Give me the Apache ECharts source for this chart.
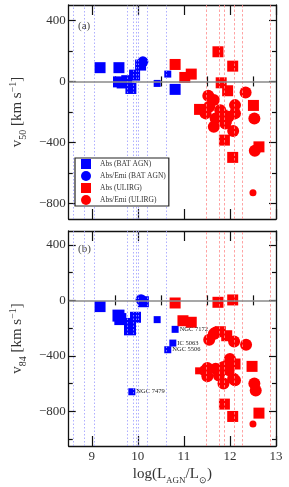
<!DOCTYPE html>
<html><head><meta charset="utf-8">
<script src="https://cdn.jsdelivr.net/npm/echarts@6/dist/echarts.min.js"></script>
<style>html,body{margin:0;padding:0;background:#fff}#c{width:289px;height:487px}</style>
</head><body><div id="c"></div>
<script>
// ---------- data ----------
const xMajorTicks = [9, 10, 11, 12, 13];
const xMinorTicks = [9.5, 10.5, 11.5, 12.5];
const yMajorTicks = [-800, -400, 0, 400];
const yMinorTicks = [-1000, -600, -200, 200];

const blueLinesX = [8.59, 8.83, 9.05, 9.78, 9.90, 9.97, 10.00, 10.21, 10.61];
const redLinesX = [11.48, 11.77, 11.88, 12.09, 12.27, 12.87];

// panel (a): v50
const aBatAbsX = [9.18, 9.59, 9.58, 9.66, 9.76, 9.85, 9.93, 10.06, 10.42, 10.65, 10.81];
const aBatAbsV = [90, 90, -3, -10, 5, -46, 41, 107, -13, 48, -52];
const aBatAbsSz = [11, 11, 11, 11, 11, 11, 11, 11, 7, 7, 11];
const aBatEmiX = [10.11];
const aBatEmiV = [128];
const aBatEmiSz = [11];
const aUlAbsX = [10.81, 11.02, 11.16, 11.74, 12.06, 11.81, 11.95, 11.34, 12.51, 11.88, 12.06, 12.63, 11.83, 11.92];
const aUlAbsV = [111, 26, 48, 194, 100, -9, -61, -183, -157, -384, -497, -428, -221, -240];
const aUlAbsSz = [11, 11, 11, 11, 11, 11, 11, 11, 11, 11, 11, 11, 11, 11];
const aUlEmiX = [11.53, 11.65, 12.34, 12.11, 12.53, 11.47, 11.65, 12.07, 11.79, 11.97, 12.11, 11.69, 12.54, 12.50, 11.90, 11.55];
const aUlEmiV = [-94, -122, -72, -155, -242, -209, -297, -325, -188, -231, -209, -242, -454, -729, -275, -166];
const aUlEmiSz = [12, 12, 12, 12, 12, 12, 12, 12, 12, 12, 12, 12, 12, 7, 12, 12];

// panel (b): v84
const bBatAbsX = [9.18, 9.58, 9.62, 9.83, 9.83, 9.95, 10.12, 10.42, 10.81, 10.76, 10.65, 9.87];
const bBatAbsV = [-45, -110, -135, -170, -209, -122, -10, -139, -209, -308, -356, -659];
const bBatAbsSz = [11, 12, 12, 12, 12, 11, 11, 7, 7, 7, 7, 7];
const bBatAbsName = ['', '', '', '', '', '', '', '', 'NGC 7172', 'IC 5063', 'NGC 5506', 'NGC 7479'];
const bBatEmiX = [10.07];
const bBatEmiV = [5];
const bBatEmiSz = [11];
const bUlAbsX = [10.81, 10.98, 11.16, 11.74, 12.06, 11.32, 12.48, 11.88, 12.06, 12.63, 12.11, 11.79, 11.93];
const bUlAbsV = [-19, -147, -158, -14, 3, -508, -476, -748, -837, -813, -459, -226, -255];
const bUlAbsSz = [11, 11, 11, 11, 11, 7, 11, 11, 11, 11, 11, 11, 11];
const bUlEmiX = [11.55, 11.65, 12.09, 12.35, 11.69, 12.00, 11.51, 11.51, 11.69, 11.86, 11.86, 12.07, 12.04, 11.97, 11.76, 12.53, 12.56, 12.50, 11.46, 11.99, 12.11];
const bUlEmiV = [-284, -243, -296, -320, -231, -423, -487, -547, -493, -481, -600, -564, -455, -503, -541, -600, -650, -892, -508, -435, -576];
const bUlEmiSz = [12, 12, 12, 12, 12, 12, 12, 12, 12, 12, 12, 12, 12, 12, 12, 12, 12, 7, 12, 12, 12];

const legendNames = ['Abs (BAT AGN)', 'Abs/Emi (BAT AGN)', 'Abs (ULIRG)', 'Abs/Emi (ULIRG)'];

// ---------- build ----------
const FONT = 'Liberation Serif';
const minus = v => String(v).replace('-', '\u2212');

function pts(xs, ys, sz, names) {
  return xs.map((x, i) => ({ value: [x, ys[i]], symbolSize: sz[i], name: names ? names[i] : '' }));
}

const panels = [
  { top: 5, height: 214, min: -900, max: 500 },
  { top: 231, height: 215, min: -1050, max: 500 }
];

const grid = panels.map(p => ({ left: 62, top: p.top, width: 214, height: p.height, containLabel: false }));

const xAxis = [], yAxis = [];
panels.forEach((p, gi) => {
  ['bottom', 'top'].forEach(pos => {
    xAxis.push({
      type: 'value', gridIndex: gi, position: pos, min: 8.5, max: 13,
      axisLine: { show: true, onZero: false, lineStyle: { color: '#111', width: 1.3 } },
      axisTick: { show: true, inside: true, length: 10, customValues: xMajorTicks, lineStyle: { color: '#111', width: 1.2 } },
      axisLabel: (gi === 1 && pos === 'bottom') ? {
        show: true, customValues: xMajorTicks, margin: 4, fontFamily: FONT, fontSize: 13, color: '#333'
      } : { show: false },
      splitLine: { show: false },
      name: (gi === 1 && pos === 'bottom') ? '{a|log(L}{s|AGN}{a|/L}{s|\u2299}{a|)}' : '',
      nameLocation: 'middle', nameGap: 18,
      nameTextStyle: {
        rich: {
          a: { fontFamily: FONT, fontSize: 15, color: '#333', lineHeight: 18, verticalAlign: 'bottom' },
          s: { fontFamily: FONT, fontSize: 9, color: '#333', lineHeight: 14, verticalAlign: 'bottom', padding: [0, 0, -3, 0] }
        }
      }
    });
    xAxis.push({
      type: 'value', gridIndex: gi, position: pos, min: 8.5, max: 13,
      axisLine: { show: false },
      axisTick: { show: true, inside: true, length: 5, customValues: xMinorTicks, lineStyle: { color: '#111', width: 1.2 } },
      axisLabel: { show: false }, splitLine: { show: false }
    });
  });
  ['left', 'right'].forEach(pos => {
    yAxis.push({
      type: 'value', gridIndex: gi, position: pos, min: p.min, max: p.max,
      axisLine: { show: true, onZero: false, lineStyle: { color: '#111', width: 1.3 } },
      axisTick: { show: true, inside: true, length: 7, customValues: yMajorTicks, lineStyle: { color: '#111', width: 1.2 } },
      axisLabel: pos === 'left' ? {
        show: true, customValues: yMajorTicks, margin: 3, fontFamily: FONT, fontSize: 13, color: '#333',
        formatter: v => minus(v)
      } : { show: false },
      splitLine: { show: false },
      name: pos === 'left' ? (gi === 0 ? '{a|v}{s|50}{a| [km s}{p|\u22121}{a|]}' : '{a|v}{s|84}{a| [km s}{p|\u22121}{a|]}') : '',
      nameLocation: 'middle', nameGap: 40, nameRotate: 90,
      nameTextStyle: {
        rich: {
          a: { fontFamily: FONT, fontSize: 15, color: '#333', lineHeight: 18, verticalAlign: 'bottom' },
          s: { fontFamily: FONT, fontSize: 10, color: '#333', lineHeight: 14, verticalAlign: 'bottom', padding: [0, 0, -3, 0] },
          p: { fontFamily: FONT, fontSize: 10, color: '#333', lineHeight: 12, verticalAlign: 'bottom', padding: [0, 0, 7, 0] }
        }
      }
    });
    yAxis.push({
      type: 'value', gridIndex: gi, position: pos, min: p.min, max: p.max,
      axisLine: { show: false },
      axisTick: { show: true, inside: true, length: 4, customValues: yMinorTicks, lineStyle: { color: '#111', width: 1.2 } },
      axisLabel: { show: false }, splitLine: { show: false }
    });
  });
});

function refLines(gi) {
  const d = [];
  blueLinesX.forEach(v => d.push({ xAxis: v, lineStyle: { color: '#9a9aff', type: [1.5, 2], width: 0.8 } }));
  redLinesX.forEach(v => d.push({ xAxis: v, lineStyle: { color: '#ff8c8c', type: [2.5, 2], width: 0.8 } }));
  d.push({ yAxis: 0, lineStyle: { color: '#8a8a8a', type: 'solid', width: 1.6 } });
  return {
    type: 'scatter', name: 'ref' + gi, xAxisIndex: gi * 4, yAxisIndex: gi * 4, data: [], z: 1, silent: true,
    markLine: { silent: true, symbol: ['none', 'none'], label: { show: false }, animation: false, data: d }
  };
}

function sc(name, gi, data, symbol, color, withLabel) {
  return {
    type: 'scatter', name, xAxisIndex: gi * 4, yAxisIndex: gi * 4, data, symbol, z: 3,
    itemStyle: { color, opacity: 1 },
    emphasis: { disabled: true },
    label: withLabel ? {
      show: true, position: 'right', distance: 1, formatter: p => p.name,
      fontFamily: FONT, fontSize: 6.5, color: '#222'
    } : { show: false },
    animation: false
  };
}

const series = [
  refLines(0), refLines(1),
  sc(legendNames[0], 0, pts(aBatAbsX, aBatAbsV, aBatAbsSz), 'rect', '#0000ff'),
  sc(legendNames[1], 0, pts(aBatEmiX, aBatEmiV, aBatEmiSz), 'circle', '#0000ff'),
  sc(legendNames[2], 0, pts(aUlAbsX, aUlAbsV, aUlAbsSz), 'rect', '#ff0000'),
  sc(legendNames[3], 0, pts(aUlEmiX, aUlEmiV, aUlEmiSz), 'circle', '#ff0000'),
  sc(legendNames[0], 1, pts(bBatAbsX, bBatAbsV, bBatAbsSz, bBatAbsName), 'rect', '#0000ff', true),
  sc(legendNames[1], 1, pts(bBatEmiX, bBatEmiV, bBatEmiSz), 'circle', '#0000ff'),
  sc(legendNames[2], 1, pts(bUlAbsX, bUlAbsV, bUlAbsSz), 'rect', '#ff0000'),
  sc(legendNames[3], 1, pts(bUlEmiX, bUlEmiV, bUlEmiSz), 'circle', '#ff0000')
];

const chart = echarts.init(document.getElementById('c'), null, { renderer: 'canvas' });
chart.setOption({
  animation: false,
  backgroundColor: '#fff',
  grid, xAxis, yAxis, series,
  title: [
    { text: '(a)', left: 78, top: 21, padding: 0, textStyle: { fontFamily: FONT, fontSize: 11, fontWeight: 'normal', color: '#444' } },
    { text: '(b)', left: 78, top: 244, padding: 0, textStyle: { fontFamily: FONT, fontSize: 11, fontWeight: 'normal', color: '#444' } }
  ],
  legend: {
    left: 75, top: 158, orient: 'vertical', itemWidth: 10, itemHeight: 10, itemGap: 2,
    padding: [1, 3, 1, 6], borderColor: '#222', borderWidth: 1.2, backgroundColor: '#fff',
    selectedMode: false, z: 10,
    data: [
      { name: legendNames[0], icon: 'rect' }, { name: legendNames[1], icon: 'circle' },
      { name: legendNames[2], icon: 'rect' }, { name: legendNames[3], icon: 'circle' }
    ],
    textStyle: { fontFamily: FONT, fontSize: 7.5, color: '#333', padding: [0, 0, 0, 4] }
  }
});
</script></body></html>
